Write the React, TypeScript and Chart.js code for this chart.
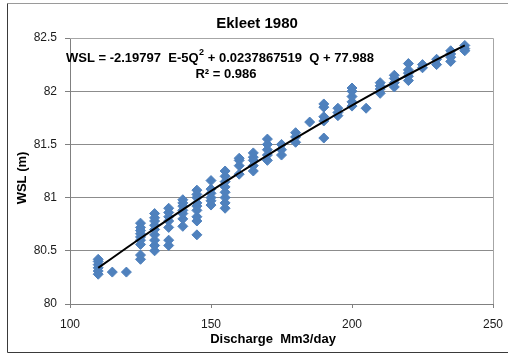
import React, { useEffect, useRef } from "react";
import { Chart, registerables } from "chart.js";

Chart.register(...registerables);

const chartTitle = "Ekleet 1980";
const xAxisTitle = "Discharge  Mm3/day";
const yAxisTitle = "WSL (m)";
const equationMain = "WSL = -2.19797  E-5Q";
const equationSup = "2";
const equationRest = " + 0.0237867519  Q + 77.988";
const rSquaredText = "R\u00B2 = 0.986";

const xTicks = [100, 150, 200, 250];
const yTicks = [80, 80.5, 81, 81.5, 82, 82.5];

// Observed discharge (Mm3/day) and water surface level (m), paired by index
const dischargeQ = [
  110, 110, 110, 110, 110, 110,
  115,
  120,
  125, 125, 125, 125, 125, 125, 125, 125, 125,
  130, 130, 130, 130, 130, 130, 130, 130, 130,
  135, 135, 135, 135, 135, 135, 135,
  140, 140, 140, 140, 140, 140, 140,
  145, 145, 145, 145, 145, 145, 145, 145, 145,
  150, 150, 150, 150, 150, 150,
  155, 155, 155, 155, 155, 155, 155, 155,
  160, 160, 160, 160,
  165, 165, 165, 165, 165,
  170, 170, 170, 170, 170,
  175, 175, 175,
  180, 180, 180,
  185,
  190, 190, 190, 190, 190,
  195, 195, 195,
  200, 200, 200, 200, 200,
  205,
  210, 210, 210, 210,
  215, 215, 215, 215,
  220, 220, 220, 220, 220,
  225, 225,
  230, 230,
  235, 235, 235, 235,
  240, 240, 240,
];
const wslObserved = [
  80.28, 80.31, 80.34, 80.37, 80.40, 80.42,
  80.30,
  80.30,
  80.42, 80.46, 80.56, 80.60, 80.63, 80.66, 80.69, 80.72, 80.76,
  80.50, 80.55, 80.60, 80.65, 80.70, 80.74, 80.78, 80.81, 80.85,
  80.55, 80.60, 80.72, 80.78, 80.82, 80.86, 80.90,
  80.73, 80.80, 80.85, 80.88, 80.92, 80.95, 80.98,
  80.65, 80.78, 80.82, 80.88, 80.92, 80.95, 81.00, 81.03, 81.07,
  80.93, 80.97, 81.00, 81.04, 81.08, 81.16,
  80.90, 80.95, 81.00, 81.05, 81.10, 81.15, 81.20, 81.25,
  81.22, 81.30, 81.35, 81.37,
  81.25, 81.30, 81.35, 81.38, 81.42,
  81.35, 81.40, 81.45, 81.50, 81.55,
  81.40, 81.45, 81.50,
  81.52, 81.57, 81.61,
  81.71,
  81.56, 81.72, 81.76, 81.85, 81.88,
  81.77, 81.80, 81.84,
  81.86, 81.90, 81.95, 82.00, 82.03,
  81.84,
  81.98, 82.02, 82.05, 82.08,
  82.04, 82.08, 82.12, 82.15,
  82.10, 82.14, 82.17, 82.20, 82.26,
  82.22, 82.25,
  82.25, 82.30,
  82.28, 82.32, 82.35, 82.38,
  82.38, 82.40, 82.43,
];

// Polynomial trendline as shown
const trendQ = [110, 120, 130, 140, 150, 160, 170, 180, 190, 200, 210, 220, 230, 240];
const trendWSL = [
  80.339, 80.526, 80.709, 80.887, 81.062, 81.231, 81.397, 81.558, 81.714,
  81.866, 82.014, 82.157, 82.296, 82.431,
];

const FONT = "'Liberation Sans', Arial, sans-serif";

const decorPlugin = {
  id: "decor",
  beforeDraw(chart: any) {
    const ctx = chart.ctx;
    ctx.save();
    ctx.fillStyle = "#ffffff";
    ctx.fillRect(0, 0, chart.width, chart.height);
    ctx.restore();
  },
  afterDraw(chart: any) {
    const ctx = chart.ctx;
    const a = chart.chartArea;
    ctx.save();
    // plot area border (top/right)
    ctx.strokeStyle = "#a6a6a6";
    ctx.lineWidth = 1;
    ctx.beginPath();
    ctx.moveTo(a.left, Math.round(a.top) + 0.5);
    ctx.lineTo(Math.round(a.right) + 0.5, Math.round(a.top) + 0.5);
    ctx.lineTo(Math.round(a.right) + 0.5, a.bottom);
    ctx.stroke();

    // outer frame
    ctx.strokeStyle = "#9a9a9a";
    ctx.beginPath();
    ctx.moveTo(7.5, 3.5);
    ctx.lineTo(chart.width, 3.5);
    ctx.stroke();
    ctx.strokeStyle = "#3a3a3a";
    ctx.beginPath();
    ctx.moveTo(7.5, 3.5);
    ctx.lineTo(7.5, 352.5);
    ctx.lineTo(chart.width, 352.5);
    ctx.stroke();

    ctx.fillStyle = "#000000";
    ctx.textBaseline = "middle";

    // title
    ctx.font = `bold 15px ${FONT}`;
    ctx.textAlign = "center";
    ctx.fillText(chartTitle, 257, 24);

    // equation
    ctx.font = `bold 13px ${FONT}`;
    ctx.textAlign = "left";
    let x = 66;
    ctx.fillText(equationMain, x, 58);
    x += ctx.measureText(equationMain).width;
    ctx.font = `bold 9px ${FONT}`;
    ctx.fillText(equationSup, x + 0.5, 53);
    x += ctx.measureText(equationSup).width + 0.5;
    ctx.font = `bold 13px ${FONT}`;
    ctx.fillText(equationRest, x, 58);

    ctx.textAlign = "center";
    ctx.fillText(rSquaredText, 226, 74);

    // axis titles
    ctx.fillText(xAxisTitle, 273, 339);
    ctx.translate(22, 178);
    ctx.rotate(-Math.PI / 2);
    ctx.fillText(yAxisTitle, 0, 0);
    ctx.restore();
  },
};

export default function App() {
  const canvasRef = useRef<HTMLCanvasElement | null>(null);

  useEffect(() => {
    const canvas = canvasRef.current;
    if (!canvas) return;
    const points = dischargeQ.map((q, i) => ({ x: q, y: wslObserved[i] }));
    const trend = trendQ.map((q, i) => ({ x: q, y: trendWSL[i] }));

    const chart = new Chart(canvas, {
      type: "scatter",
      data: {
        datasets: [
          {
            label: "Trend",
            data: trend,
            showLine: true,
            borderColor: "#000000",
            borderWidth: 2,
            pointRadius: 0,
            tension: 0.4,
            fill: false,
          } as any,
          {
            label: "WSL",
            data: points,
            pointStyle: "rectRot",
            pointRadius: 5,
            backgroundColor: "#4f81bd",
            borderColor: "#4f81bd",
            borderWidth: 1,
            showLine: false,
          } as any,
        ],
      },
      options: {
        responsive: false,
        animation: false,
        devicePixelRatio: 1,
        layout: { padding: { left: 0, right: 15, top: 38, bottom: 0 } },
        plugins: {
          legend: { display: false },
          tooltip: { enabled: false },
          title: { display: false },
        },
        scales: {
          x: {
            type: "linear",
            min: 100,
            max: 250,
            afterBuildTicks: (scale: any) => {
              scale.ticks = xTicks.map((v) => ({ value: v }));
            },
            afterFit: (scale: any) => {
              scale.height = 52;
              scale.paddingLeft = 0;
              scale.paddingRight = 0;
            },
            ticks: {
              color: "#1a1a1a",
              font: { family: FONT, size: 12 },
              padding: 9,
              maxRotation: 0,
              callback: (v: any) => String(v),
            },
            grid: {
              drawOnChartArea: false,
              drawTicks: true,
              tickLength: 4,
              tickColor: "#808080",
            },
            border: { color: "#808080", width: 1 },
          },
          y: {
            type: "linear",
            min: 80,
            max: 82.5,
            afterBuildTicks: (scale: any) => {
              scale.ticks = yTicks.map((v) => ({ value: v }));
            },
            afterFit: (scale: any) => {
              scale.width = 70;
              scale.paddingTop = 0;
              scale.paddingBottom = 0;
            },
            ticks: {
              color: "#1a1a1a",
              font: { family: FONT, size: 12 },
              padding: 8,
              callback: (v: any) => String(Number(v)),
            },
            grid: {
              color: "#8c8c8c",
              drawTicks: true,
              tickLength: 5,
              tickColor: "#808080",
            },
            border: { color: "#808080", width: 1 },
          },
        },
      },
      plugins: [decorPlugin],
    });

    return () => chart.destroy();
  }, []);

  return (
    <div style={{ position: "absolute", left: 0, top: 0, width: 508, height: 356 }}>
      <canvas ref={canvasRef} width={508} height={356} />
    </div>
  );
}
